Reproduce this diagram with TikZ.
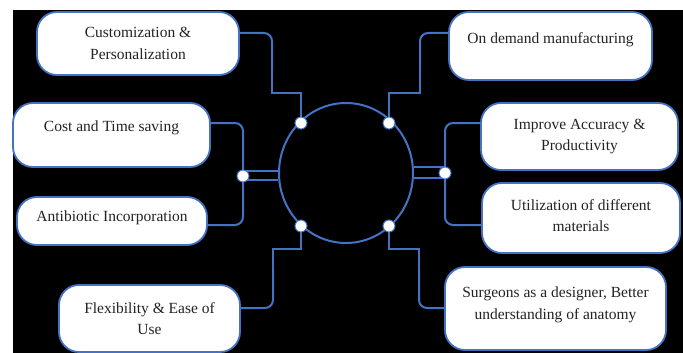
\documentclass[tikz,border=0pt]{standalone}
\usepackage{fontspec}
\setmainfont{Liberation Serif}
\usetikzlibrary{shapes.geometric}
\definecolor{lblue}{RGB}{68,114,196}
\definecolor{txt}{RGB}{35,35,35}
\pgfdeclarelayer{back}
\pgfdeclarelayer{bg}
\pgfsetlayers{back,bg,main}
\begin{document}
\begin{tikzpicture}[x=1pt,y=-1pt,
  box/.style={draw=lblue, line width=1.8pt, fill=white, rounded corners=20pt,
    align=center, text=txt, font=\fontsize{15.5}{21.5}\selectfont, inner sep=0pt},
  conn/.style={draw=lblue, line width=2pt},
  hubstyle/.style={ellipse, draw=lblue, line width=2pt, inner sep=0pt},
  dot/.style={circle, fill=white, draw=lblue, line width=1pt, minimum size=12pt, inner sep=0pt}]
\useasboundingbox (0,0) rectangle (683,353);
\begin{pgfonlayer}{back}
\fill[white] (0,0) rectangle (683,353);
\fill[black] (13,10) rectangle (683,353);
\end{pgfonlayer}

% hub
\node[hubstyle, minimum width=134pt, minimum height=140pt] (hub) at (346,173) {};

% boxes
\node[box, minimum width=202pt, minimum height=63pt] (cust) at (138,43.5) {Customization \&\\Personalization};
\node[box, minimum width=197pt, minimum height=64pt, text depth=17pt] (cost) at (111.5,135) {Cost and Time saving};
\node[box, minimum width=190pt, minimum height=48pt, text depth=9pt] (anti) at (112,221) {Antibiotic Incorporation};
\node[box, minimum width=181pt, minimum height=67pt] (flex) at (149.5,318.5) {Flexibility \& Ease of\\Use};
\node[box, minimum width=203pt, minimum height=68pt, text depth=15pt] (ond) at (550.5,46) {On demand manufacturing};
\node[box, minimum width=197pt, minimum height=67pt] (impr) at (579.5,136.5) {Improve Accuracy \&\\Productivity};
\node[box, minimum width=198pt, minimum height=70pt, text depth=5pt] (util) at (581,218) {Utilization of different\\materials};
\node[box, minimum width=221pt, minimum height=83pt, text depth=11pt] (surg) at (555.5,308.5) {Surgeons as a designer, Better\\understanding of anatomy};

% dots
\node[dot] (d1) at (301,123) {};
\node[dot] (d2) at (389,123) {};
\node[dot] (d3) at (301,226) {};
\node[dot] (d4) at (389,226) {};
\node[dot] (ld) at (243,176) {};
\node[dot] (rd) at (445,173) {};

\begin{pgfonlayer}{bg}
% top-left
\draw[conn, rounded corners=8pt] (cust.east |- 0,33) -- (272,33) -- (272,70);
\draw[conn] (272,68) -- (272,93) -- (301,93) -- (d1.center);
% top-right
\draw[conn, rounded corners=8pt] (ond.west |- 0,33) -- (420,33) -- (420,70);
\draw[conn] (420,68) -- (420,93) -- (389,93) -- (d2.center);
% bottom-left
\draw[conn, rounded corners=8pt] (flex.east |- 0,308) -- (273,308) -- (273,270);
\draw[conn] (273,272) -- (273,249) -- (301,249) -- (d3.center);
% bottom-right
\draw[conn, rounded corners=8pt] (surg.west |- 0,308) -- (419,308) -- (419,270);
\draw[conn] (419,272) -- (419,249) -- (389,249) -- (d4.center);
% left pair
\draw[conn, rounded corners=8pt] (cost.east |- 0,123) -- (243,123) -- (ld.center);
\draw[conn, rounded corners=8pt] (anti.east |- 0,225) -- (243,225) -- (ld.center);
\draw[conn] (ld.center |- 0,171) -- (hub.west |- 0,171);
\draw[conn] (ld.center |- 0,180) -- (hub.west |- 0,180);
% right pair
\draw[conn, rounded corners=8pt] (impr.west |- 0,123) -- (445,123) -- (rd.center);
\draw[conn, rounded corners=8pt] (util.west |- 0,225) -- (445,225) -- (rd.center);
\draw[conn] (rd.center |- 0,167) -- (hub.east |- 0,167);
\draw[conn] (rd.center |- 0,178) -- (hub.east |- 0,178);
\end{pgfonlayer}
\end{tikzpicture}
\end{document}
